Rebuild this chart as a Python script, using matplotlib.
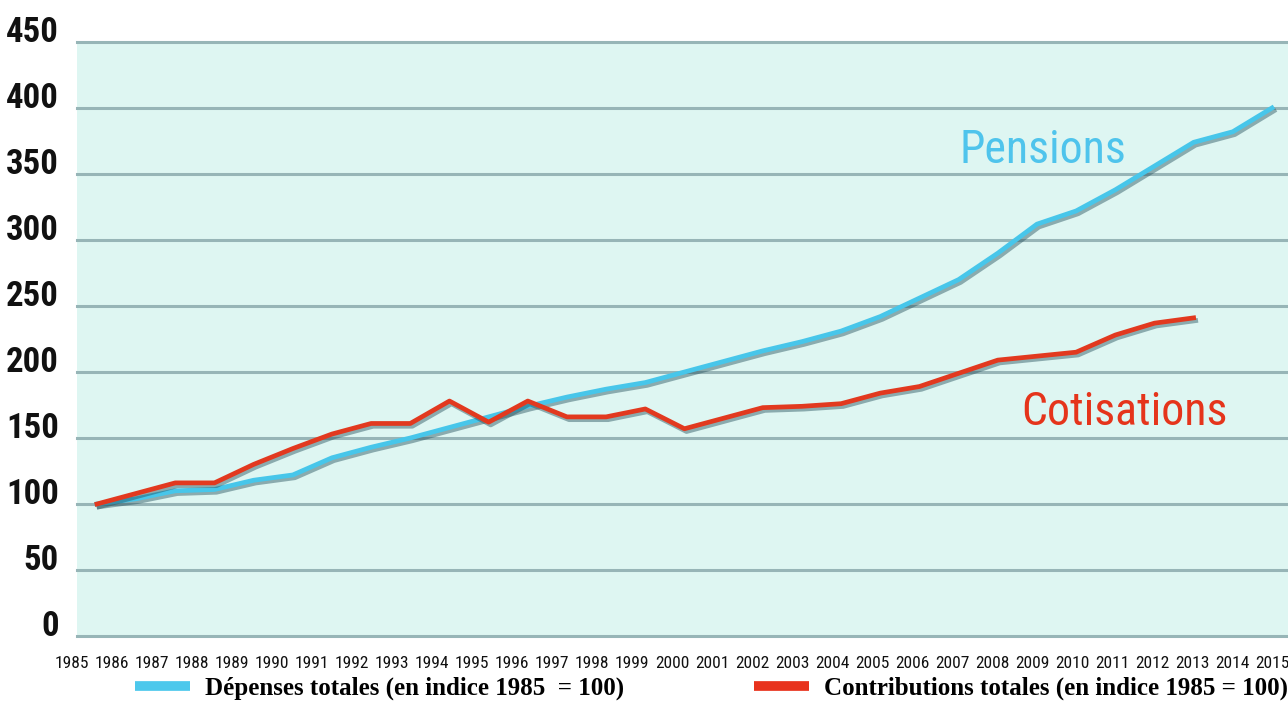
import numpy as np
import matplotlib
matplotlib.use("Agg")
import matplotlib.pyplot as plt
import matplotlib.patheffects as pe
from matplotlib.lines import Line2D

years = list(range(1985, 2016))
depenses = [100, 104, 110, 111, 118, 122, 135, 143, 150, 158, 166, 174, 181, 187, 192,
            200, 208, 216, 223, 231, 242, 256, 270, 290, 312, 322, 338, 356, 374, 382, 400]
cot_years = list(range(1985, 2014))
cotisations = [100, 108, 116, 116, 130, 142, 153, 161, 161, 178, 162, 178, 166, 166, 172,
               157, 165, 173, 174, 176, 184, 189, 199, 209, 212, 215, 228, 237, 241]
yticks = [0, 50, 100, 150, 200, 250, 300, 350, 400, 450]
xlabels = [str(y) for y in years]

narrow = ['Roboto Condensed', 'Liberation Sans Narrow', 'DejaVu Sans']
serif = ['Liberation Serif', 'DejaVu Serif']
blue = '#47c6ea'
red = '#e2391f'

W, H = 1288, 728
fig = plt.figure(figsize=(W / 100, H / 100), dpi=100)
ax = fig.add_axes([77 / W, 1 - 636 / H, 1 - 77 / W, (636 - 42) / H])
ax.set_facecolor('#def6f2')

shadow = [pe.SimpleLineShadow(offset=(1.5, -2), shadow_color='#24505c', alpha=0.45), pe.Normal()]
ax.plot(years, depenses, color=blue, lw=3.4, solid_joinstyle='round', path_effects=shadow, zorder=3)
ax.plot(cot_years, cotisations, color=red, lw=3.4, solid_joinstyle='round', path_effects=shadow, zorder=4)

ax.set_ylim(0, 450)
ax.set_xlim(1984.49, 2015.41)
ax.set_yticks(yticks)
ax.set_yticklabels([str(v) for v in yticks], family=narrow, stretch='condensed',
                   weight='bold', fontsize=25, color='#111111')
for lbl in ax.get_yticklabels():
    lbl.set_va('baseline')
ax.tick_params(axis='y', length=0, pad=13)
ax.set_xticks([])
ax.grid(axis='y', color='#97b5b7', lw=2.2)
for gl in ax.get_ygridlines():
    gl.set_clip_on(False)
for s in ax.spines.values():
    s.set_visible(False)

ax.text(2007.03, 358, 'Pensions', color='#4fc4ec', family=narrow, stretch='condensed',
        fontsize=33, ha='left', va='baseline')
ax.text(2008.6, 160, 'Cotisations', color='#e5341b', family=narrow, stretch='condensed',
        fontsize=33, ha='left', va='baseline')

# year labels sit on their own row, slightly offset from the data
lab = fig.add_axes([52 / W, 1 - 652 / H, 1236 / W, 0.0001])
lab.set_xlim(1984.5, 1984.5 + 1236 / 40)
lab.set_xticks(years)
lab.set_xticklabels(xlabels, family=narrow, stretch='condensed', fontsize=12.5, color='#111111')
lab.tick_params(axis='x', length=0, pad=3)
lab.set_yticks([])
for s in lab.spines.values():
    s.set_visible(False)
lab.patch.set_visible(False)

handles = [Line2D([], [], color='#4dc8ec', lw=7, solid_capstyle='butt'),
           Line2D([], [], color='#e8321c', lw=7, solid_capstyle='butt')]
fig.legend(handles, ['Dépenses totales (en indice 1985  = 100)',
                     'Contributions totales (en indice 1985 = 100)'],
           loc='center left', bbox_to_anchor=(135 / W, 1 - 688 / H), ncol=2,
           frameon=False, borderpad=0, borderaxespad=0, handlelength=2.2,
           handletextpad=0.6, columnspacing=5.2,
           prop={'family': serif, 'weight': 'bold', 'size': 18})

fig.savefig('out.png', dpi=100, facecolor='white')
